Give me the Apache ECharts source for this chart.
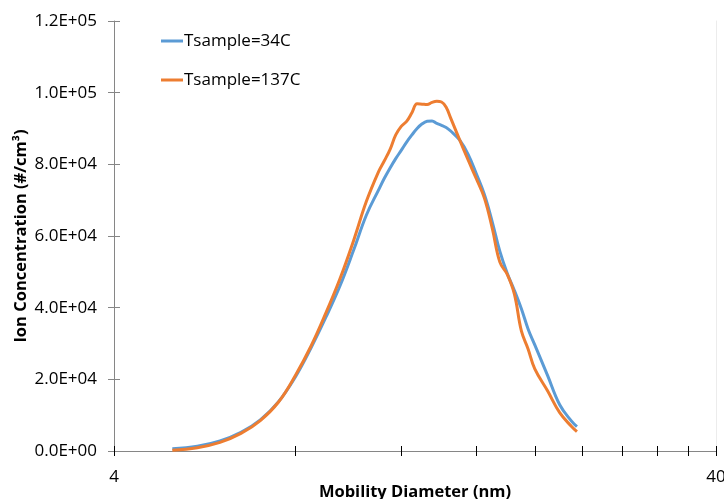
<!DOCTYPE html>
<html>
<head>
<meta charset="utf-8">
<script src="https://cdn.jsdelivr.net/npm/echarts@6/dist/echarts.min.js"></script>
<style>
  html, body { margin: 0; padding: 0; background: #fff; }
  #chart { width: 724px; height: 499px; }
</style>
</head>
<body>
<div id="chart"></div>
<script>
// Mobility diameter bins (nm)
const diameters = [5.0, 5.5, 6.0, 6.5, 7.0, 7.5, 8.0, 8.5, 9.0, 9.5, 10.0, 10.5, 11.0, 11.25, 11.5, 11.75,
  12.0, 12.25, 12.5, 12.75, 13.0, 13.25, 13.5, 13.75, 14.0, 14.25, 14.5, 15.0, 15.5, 16.0, 16.5, 17.0,
  17.5, 18.0, 18.5, 19.0, 19.5, 20.0, 21.0, 22.0, 23.0, 23.5];

// Ion concentration (#/cm3), sample at 34 C
const conc34 = [600, 1300, 2800, 5200, 8700, 13700, 20600, 28800, 37400, 46200, 56000, 65800, 72800, 76100, 79000, 81600,
  83900, 86200, 88200, 90000, 91300, 92000, 92100, 91400, 90900, 90300, 89300, 86800, 82800, 77300, 71500, 63900,
  55700, 49600, 44800, 39700, 34000, 29600, 21100, 12900, 8400, 6800];

// Ion concentration (#/cm3), sample at 137 C
const conc137 = [200, 900, 2400, 4900, 8500, 13600, 21000, 29300, 38600, 48200, 58700, 69600, 77900, 81000, 84200, 88200,
  90600, 92000, 94400, 96900, 96800, 96700, 97300, 97600, 97400, 95900, 92900, 86900, 81200, 75900, 70500, 62100,
  52700, 49300, 43800, 33500, 28400, 22900, 16800, 10700, 6900, 5400];

// Axis ticks
const xTicks = [4, 8, 12, 16, 20, 24, 28, 32, 36, 40];
const xLabels = [4, 40];

const seriesNames = ['Tsample=34C', 'Tsample=137C'];
const colors = ['#5B9BD5', '#ED7D31'];

const FONT = '"Open Sans", "Liberation Sans", sans-serif';
const AXIS_GRAY = '#868686';

function pairs(xs, ys) { return xs.map((x, i) => [x, ys[i]]); }

function sci(v) {
  if (v === 0) return '0.0E+00';
  const e = Math.floor(Math.log10(v) + 1e-9);
  const m = v / Math.pow(10, e);
  return m.toFixed(1) + 'E+' + String(e).padStart(2, '0');
}

const chart = echarts.init(document.getElementById('chart'), null, { renderer: 'canvas' });

const xCommon = {
  type: 'log', logBase: 10, min: 4, max: 40, gridIndex: 0, position: 'bottom', offset: 0,
  splitLine: { show: false }, minorTick: { show: false }, minorSplitLine: { show: false }
};
const yCommon = {
  type: 'value', min: 0, max: 120000, interval: 20000, gridIndex: 0, offset: 0,
  splitLine: { show: false }
};

chart.setOption({
  animation: false,
  backgroundColor: '#fff',
  color: colors,
  grid: { left: 114, right: 8, top: 21, bottom: 48, containLabel: false, outerBoundsMode: 'none' },
  legend: {
    orient: 'vertical', left: 156, top: 26,
    itemWidth: 22, itemHeight: 3, itemGap: 19,
    icon: 'rect',
    textStyle: { fontFamily: FONT, fontSize: 17, color: '#000', lineHeight: 20, padding: [0, 0, 0, -4] },
    data: seriesNames
  },
  xAxis: [
    Object.assign({}, xCommon, {
      name: 'Mobility Diameter (nm)', nameLocation: 'middle', nameGap: 33, nameMoveOverlap: false,
      nameTextStyle: { fontFamily: FONT, fontSize: 16.5, fontWeight: 'bold', color: '#000' },
      axisLine: { show: true, lineStyle: { color: AXIS_GRAY, width: 1 } },
      axisTick: { show: true, inside: false, length: 5, customValues: xTicks, lineStyle: { color: '#000', width: 1 } },
      axisLabel: { show: true, customValues: xLabels, margin: 18, fontFamily: FONT, fontSize: 17, color: '#000',
        formatter: v => String(Math.round(v)) }
    }),
    Object.assign({}, xCommon, {
      axisLine: { show: false },
      axisTick: { show: true, inside: true, length: 5, customValues: xTicks, lineStyle: { color: '#000', width: 1 } },
      axisLabel: { show: false }
    })
  ],
  yAxis: [
    Object.assign({}, yCommon, {
      position: 'left',
      name: 'Ion Concentration (#/cm³)', nameLocation: 'middle', nameGap: 84, nameMoveOverlap: false,
      nameTextStyle: { fontFamily: FONT, fontSize: 16.5, fontWeight: 'bold', color: '#000' },
      axisLine: { show: true, lineStyle: { color: AXIS_GRAY, width: 1 } },
      axisTick: { show: true, inside: false, length: 6, lineStyle: { color: AXIS_GRAY, width: 1 } },
      axisLabel: { margin: 17, fontFamily: FONT, fontSize: 17, color: '#000', formatter: sci }
    }),
    Object.assign({}, yCommon, {
      position: 'left',
      axisLine: { show: false },
      axisTick: { show: true, inside: true, length: 6, lineStyle: { color: AXIS_GRAY, width: 1 } },
      axisLabel: { show: false }
    }),
    Object.assign({}, yCommon, {
      position: 'right',
      axisLine: { show: true, lineStyle: { color: '#ececec', width: 1 } },
      axisTick: { show: false },
      axisLabel: { show: false }
    })
  ],
  series: [
    {
      name: seriesNames[0], type: 'line', xAxisIndex: 0, yAxisIndex: 0,
      data: pairs(diameters, conc34), smooth: 0.4, showSymbol: false, symbol: 'none',
      lineStyle: { width: 3, color: colors[0] }, z: 2
    },
    {
      name: seriesNames[1], type: 'line', xAxisIndex: 0, yAxisIndex: 0,
      data: pairs(diameters, conc137), smooth: 0.4, showSymbol: false, symbol: 'none',
      lineStyle: { width: 3, color: colors[1] }, z: 3
    }
  ]
});
</script>
</body>
</html>
